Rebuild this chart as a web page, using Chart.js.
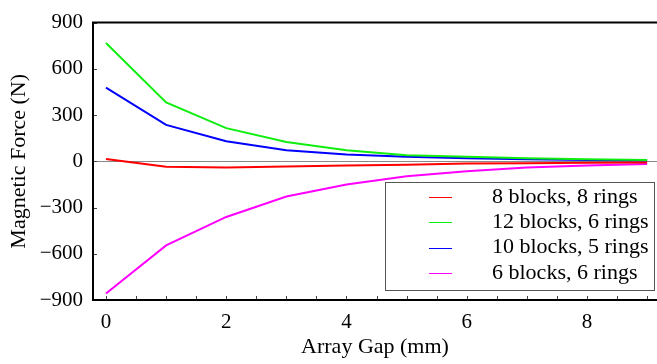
<!DOCTYPE html>
<html>
<head>
<meta charset="utf-8">
<script src="https://cdn.jsdelivr.net/npm/chart.js@4.4.1/dist/chart.umd.min.js"></script>
<style>
  html, body { margin: 0; padding: 0; background: #fff; }
  #wrap { width: 657px; height: 364px; font-family: 'Liberation Serif', serif; }
</style>
</head>
<body>
<div id="wrap"><canvas id="forceChart" width="657" height="364"></canvas></div>
<script>
// array gap in mm
const gaps = [0, 1, 2, 3, 4, 5, 6, 7, 8, 9];

// magnetic force (N) for each configuration
const force8b8r = [15, -35, -40, -34, -27, -23, -14, -12, -10, -8];
const force12b6r = [768, 382, 215, 125, 72, 40, 29, 20, 14, 9];
const force10b5r = [478, 236, 130, 72, 44, 30, 19, 13, 9, 5];
const force6b6r = [-858, -546, -361, -228, -150, -97, -65, -40, -27, -17];

const seriesNames = ['8 blocks, 8 rings', '12 blocks, 6 rings', '10 blocks, 5 rings', '6 blocks, 6 rings'];
const seriesColors = ['#ff0000', '#10ee10', '#0000ff', '#ff00ff'];

const xTickLabels = [0, 2, 4, 6, 8];
const yTickLabels = [-900, -600, -300, 0, 300, 600, 900];

const serif = '"Liberation Serif", "Times New Roman", Times, serif';

const framePlugin = {
    id: 'frame',
    afterDraw(chart) {
        const { ctx, chartArea: a, scales: { x, y } } = chart;
        ctx.save();

        // inward tick marks
        ctx.strokeStyle = '#444';
        ctx.lineWidth = 1;
        ctx.beginPath();
        for (let v = 0; v <= 9; v += 0.5) {
            const px = Math.round(x.getPixelForValue(v)) + 0.5;
            ctx.moveTo(px, a.bottom);
            ctx.lineTo(px, a.bottom - 4);
        }
        yTickLabels.forEach(v => {
            const py = Math.round(y.getPixelForValue(v)) + 0.5;
            ctx.moveTo(a.left, py);
            ctx.lineTo(a.left + 4, py);
        });
        ctx.stroke();

        // frame: top, left, bottom
        ctx.strokeStyle = '#000';
        ctx.lineWidth = 2;
        ctx.beginPath();
        ctx.moveTo(a.right, a.top);
        ctx.lineTo(a.left, a.top);
        ctx.lineTo(a.left, a.bottom);
        ctx.lineTo(a.right, a.bottom);
        ctx.stroke();

        // legend box
        const bx = a.right - 272, by = a.bottom - 118, bw = 269, bh = 108;
        ctx.fillStyle = '#fff';
        ctx.fillRect(bx, by, bw, bh);
        ctx.strokeStyle = '#555';
        ctx.lineWidth = 1;
        ctx.strokeRect(bx + 0.5, by + 0.5, bw, bh);

        ctx.font = '22px ' + serif;
        ctx.textBaseline = 'middle';
        ctx.textAlign = 'left';
        chart.data.datasets.forEach((ds, i) => {
            const rowY = by + 15 + i * 25.3;
            ctx.strokeStyle = ds.borderColor;
            ctx.beginPath();
            ctx.moveTo(bx + 44, Math.round(rowY) + 0.5);
            ctx.lineTo(bx + 67, Math.round(rowY) + 0.5);
            ctx.stroke();
            ctx.fillStyle = '#000';
            ctx.fillText(ds.label, bx + 107, rowY);
        });

        ctx.restore();
    }
};

const allSeries = [force8b8r, force12b6r, force10b5r, force6b6r];

const buildChart = () => {
    new Chart(document.getElementById('forceChart'), {
        type: 'line',
        data: {
            datasets: allSeries.map((vals, i) => ({
                label: seriesNames[i],
                data: gaps.map((g, j) => ({ x: g, y: vals[j] })),
                borderColor: seriesColors[i],
                backgroundColor: seriesColors[i],
                borderWidth: 2,
                pointRadius: 0,
                tension: 0,
                fill: false
            }))
        },
        options: {
            responsive: false,
            animation: false,
            layout: { padding: { top: 16, right: 0, left: 0, bottom: 0 } },
            plugins: {
                legend: { display: false },
                tooltip: { enabled: false }
            },
            scales: {
                x: {
                    type: 'linear',
                    min: -0.216,
                    max: 9.164,
                    afterBuildTicks: scale => { scale.ticks = xTickLabels.map(v => ({ value: v })); },
                    afterFit: scale => { scale.height = 64; },
                    grid: { display: false, drawTicks: false },
                    border: { display: false },
                    ticks: {
                        color: '#000',
                        padding: 10,
                        maxRotation: 0,
                        font: { family: serif, size: 21 }
                    },
                    title: {
                        display: true,
                        text: 'Array Gap (mm)',
                        color: '#000',
                        padding: { top: 0, bottom: 4 },
                        font: { family: serif, size: 22 }
                    }
                },
                y: {
                    type: 'linear',
                    min: -900,
                    max: 900,
                    afterBuildTicks: scale => { scale.ticks = yTickLabels.map(v => ({ value: v })); },
                    afterFit: scale => { scale.width = 93; },
                    grid: {
                        drawTicks: false,
                        color: c => (c.tick && c.tick.value === 0 ? '#888' : 'rgba(0,0,0,0)'),
                        lineWidth: 1
                    },
                    border: { display: false },
                    ticks: {
                        color: '#000',
                        padding: 10,
                        font: { family: serif, size: 21 },
                        callback: v => (v < 0 ? '\u2212' + Math.abs(v) : String(v))
                    },
                    title: {
                        display: true,
                        text: 'Magnetic Force (N)',
                        color: '#000',
                        padding: { top: 6, bottom: 0 },
                        font: { family: serif, size: 22 }
                    }
                }
            }
        },
        plugins: [framePlugin]
    });
};

document.fonts.load('22px "Liberation Serif"').then(buildChart, buildChart);
</script>
</body>
</html>
